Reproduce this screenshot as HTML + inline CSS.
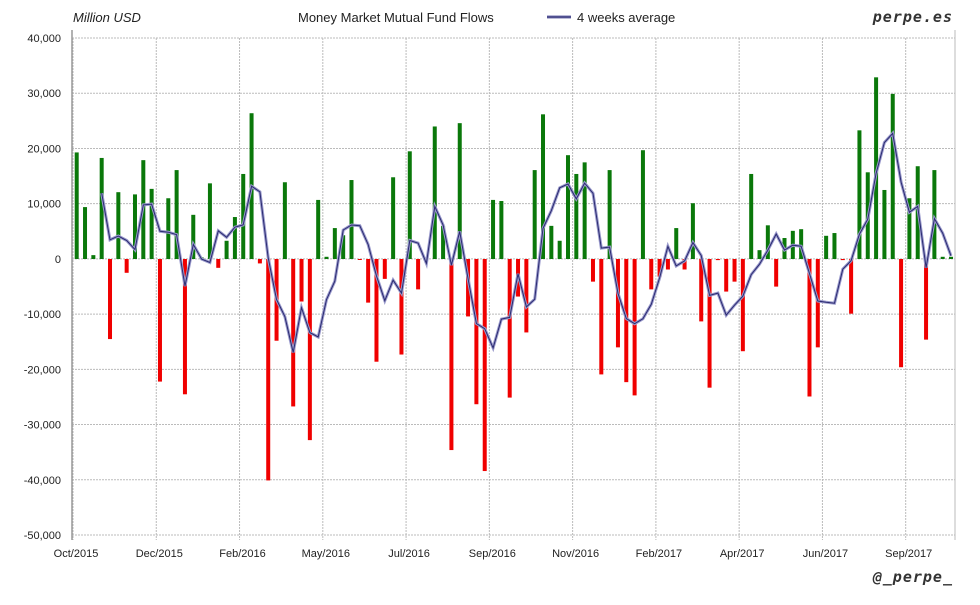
<!DOCTYPE html>
<html><head><meta charset="utf-8"><style>
html,body{margin:0;padding:0;background:#fff;}
svg text{font-family:"Liberation Sans","DejaVu Sans",sans-serif;}
</style></head><body>
<svg id="c" width="980" height="600" xmlns="http://www.w3.org/2000/svg">
<rect width="980" height="600" fill="#fff"/>
<g id="grid"></g>
<g id="bars"></g>
<g id="line"></g>
<g id="lbl" font-size="11" fill="#222"></g>
<text x="73" y="22" font-size="13" font-style="italic" fill="#222">Million USD</text>
<text x="298" y="22" font-size="13" fill="#222">Money Market Mutual Fund Flows</text>
<line x1="547" y1="17" x2="571" y2="17" stroke="#7777b0" stroke-width="3"/>
<line x1="547" y1="17" x2="571" y2="17" stroke="#2a2a70" stroke-width="1"/>
<text x="577" y="22" font-size="13" fill="#222">4 weeks average</text>
<text x="953" y="22" font-size="15" font-weight="bold" font-style="italic" fill="#333" text-anchor="end" style="font-family:'DejaVu Sans Mono','Liberation Mono',monospace" letter-spacing="1">perpe.es</text>
<text x="953" y="582" font-size="15" font-weight="bold" font-style="italic" fill="#333" text-anchor="end" style="font-family:'DejaVu Sans Mono','Liberation Mono',monospace" letter-spacing="1">@_perpe_</text>
</svg>
<script>
(function(){
var v=[19.3,9.4,0.7,18.3,-14.5,12.1,-2.5,11.7,17.9,12.7,-22.2,11.0,16.1,-24.5,8.0,0.3,13.7,-1.6,3.3,7.6,15.4,26.4,-0.8,-40.1,-14.8,13.9,-26.7,-7.7,-32.8,10.7,0.4,5.6,4.3,14.3,
-0.1,-7.9,-18.6,-3.6,14.8,-17.3,19.5,-5.5,0.1,24.0,6.0,-34.6,24.6,-10.4,-26.3,-38.4,10.7,10.5,-25.1,-6.8,-13.3,16.1,26.2,6.0,3.3,18.8,15.4,17.5,-4.1,-20.9,16.1,-16.0,-22.3,-24.7,19.7,-5.5,-3.2,
-1.9,5.6,-1.9,10.1,-11.3,-23.3,-0.2,-5.9,-4.1,-16.7,15.4,1.6,6.1,-5.0,3.8,5.1,5.4,-24.9,-16.0,4.2,4.7,-0.2,-9.9,23.3,15.7,32.9,12.5,29.9,-19.6,11.0,16.8,-14.6,16.1,0.4,0.4];
var NS="http://www.w3.org/2000/svg";
function el(p,t,a){var e=document.createElementNS(NS,t);for(var k in a)e.setAttribute(k,a[k]);p.appendChild(e);return e;}
var g=document.getElementById('grid'),b=document.getElementById('bars'),l=document.getElementById('line'),lb=document.getElementById('lbl');
var Y0=38,X0=72,X1=955;
function y(val){return 259-val*5.522;}
for(var i=0;i<10;i++){var yy=Y0+i*55.22;
 el(g,'line',{x1:X0,x2:X1,y1:yy,y2:yy,stroke:'#bbb','stroke-dasharray':'2,1','stroke-width':1});
 var t=el(lb,'text',{x:61,y:yy+4,'text-anchor':'end'});var n=40-i*10;t.textContent=n==0?'0':n+',000';}
var months=['Oct/2015','Dec/2015','Feb/2016','May/2016','Jul/2016','Sep/2016','Nov/2016','Feb/2017','Apr/2017','Jun/2017','Sep/2017'];
for(var k=0;k<11;k++){var xx=73+83.27*k;
 el(g,'line',{x1:xx,x2:xx,y1:Y0,y2:540,stroke:'#bbb','stroke-dasharray':'2,1','stroke-width':1});
 var t=el(lb,'text',{x:xx+3,y:557,'text-anchor':'middle'});t.textContent=months[k];}
el(g,'line',{x1:X0,x2:X0,y1:30,y2:540,stroke:'#999','stroke-width':1.5});
el(g,'line',{x1:X1,x2:X1,y1:30,y2:540,stroke:'#bbb','stroke-width':1});
for(var i=0;i<v.length;i++){var x=76.7+i*8.327,val=v[i];
 var ty=val>=0?y(val):259,h=Math.max(Math.abs(val)*5.522,1);
 el(b,'rect',{x:x-2,y:ty,width:4,height:h,fill:val>=0?'#0a780a':'#f00000'});}
var pts=[];
for(var i=3;i<v.length;i++){var a=(v[i]+v[i-1]+v[i-2]+v[i-3])/4;pts.push((76.7+i*8.327).toFixed(1)+','+y(a).toFixed(1));}
el(l,'polyline',{points:pts.join(' '),fill:'none',stroke:'#9a9acc','stroke-width':3});
el(l,'polyline',{points:pts.join(' '),fill:'none',stroke:'#2a2a70','stroke-width':1});
})();
</script>
</body></html>
